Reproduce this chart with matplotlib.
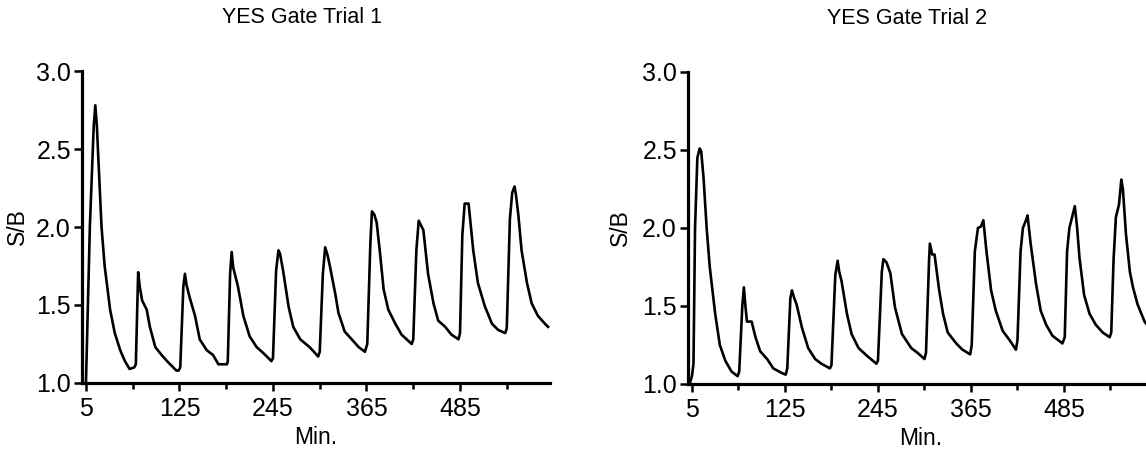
from __future__ import annotations

import matplotlib

matplotlib.use("Agg")
import matplotlib.pyplot as plt
from matplotlib.ticker import FixedLocator

plt.rcParams["font.family"] = ["Liberation Sans", "DejaVu Sans"]

# Values (minutes, signal / background)
trial1_min = [
    5, 10, 15, 17, 19, 21, 25, 29, 36, 42, 49, 55, 61, 67,
    69, 72, 74, 77, 83, 87, 94, 102, 111, 121, 124,
    126, 130, 132, 134, 138, 145, 151, 160, 168, 175, 186,
    187, 190, 192, 194, 200, 207, 215, 224, 233, 243,
    245, 249, 252, 254, 258, 265, 271, 280, 292, 303,
    305, 309, 312, 315, 318, 325, 329, 337, 346, 355, 363,
    366, 370, 372, 375, 378, 382, 387, 393, 402, 410, 423,
    425, 429, 432, 435, 438, 444, 451, 457, 466, 474, 483,
    485, 488, 491, 496, 498, 502, 508, 517, 526, 534, 543,
    545, 549, 552, 555, 557, 560, 564, 571, 577, 585, 594, 598,
]
trial1_sb = [
    1.00, 2.00, 2.65, 2.78, 2.65, 2.43, 2.00, 1.75, 1.47, 1.32, 1.21, 1.14, 1.09, 1.10,
    1.12, 1.71, 1.62, 1.53, 1.47, 1.36, 1.23, 1.18, 1.13, 1.08, 1.08,
    1.10, 1.62, 1.70, 1.63, 1.55, 1.43, 1.28, 1.21, 1.18, 1.12, 1.12,
    1.14, 1.70, 1.84, 1.74, 1.62, 1.43, 1.30, 1.23, 1.19, 1.14,
    1.16, 1.72, 1.85, 1.83, 1.72, 1.49, 1.36, 1.28, 1.23, 1.17,
    1.20, 1.70, 1.87, 1.82, 1.75, 1.57, 1.45, 1.33, 1.28, 1.23, 1.20,
    1.25, 1.90, 2.10, 2.08, 2.03, 1.85, 1.60, 1.47, 1.38, 1.31, 1.25,
    1.28, 1.85, 2.04, 2.01, 1.98, 1.70, 1.51, 1.40, 1.36, 1.31, 1.28,
    1.32, 1.95, 2.15, 2.15, 2.05, 1.85, 1.64, 1.49, 1.38, 1.34, 1.32,
    1.35, 2.05, 2.22, 2.26, 2.20, 2.07, 1.85, 1.64, 1.51, 1.43, 1.38, 1.36,
]

trial2_min = [
    2, 5, 7, 9, 12, 15, 17, 20, 24, 28, 35, 41, 48, 56, 64,
    66, 70, 72, 74, 76, 82, 87, 93, 102, 110, 121, 126,
    128, 132, 134, 137, 140, 147, 155, 164, 172, 183,
    185, 190, 193, 195, 198, 205, 211, 220, 231, 243,
    245, 250, 252, 256, 261, 267, 276, 288, 296, 305,
    307, 311, 312, 315, 318, 324, 329, 335, 346, 354, 364,
    366, 370, 374, 378, 381, 385, 391, 397, 406, 415, 423,
    425, 429, 432, 436, 438, 442, 449, 455, 462, 470, 483,
    486, 489, 492, 496, 499, 502, 505, 511, 518, 526, 535, 544,
    546, 549, 552, 556, 559, 561, 565, 570, 574, 580, 589, 595,
]
trial2_sb = [
    1.00, 1.05, 1.13, 2.00, 2.45, 2.51, 2.49, 2.32, 2.00, 1.75, 1.45, 1.25, 1.15, 1.08, 1.05,
    1.08, 1.50, 1.62, 1.50, 1.40, 1.40, 1.30, 1.21, 1.16, 1.10, 1.07, 1.06,
    1.10, 1.55, 1.60, 1.55, 1.51, 1.36, 1.23, 1.16, 1.13, 1.10,
    1.12, 1.70, 1.79, 1.72, 1.66, 1.45, 1.32, 1.23, 1.18, 1.13,
    1.15, 1.72, 1.80, 1.78, 1.71, 1.49, 1.32, 1.23, 1.20, 1.16,
    1.20, 1.80, 1.90, 1.83, 1.83, 1.60, 1.45, 1.33, 1.26, 1.22, 1.19,
    1.25, 1.85, 2.00, 2.01, 2.05, 1.85, 1.60, 1.47, 1.34, 1.28, 1.22,
    1.28, 1.85, 2.00, 2.05, 2.08, 1.90, 1.64, 1.47, 1.38, 1.31, 1.26,
    1.30, 1.85, 2.00, 2.08, 2.14, 2.00, 1.81, 1.57, 1.45, 1.38, 1.33, 1.30,
    1.33, 1.80, 2.07, 2.15, 2.31, 2.25, 1.96, 1.72, 1.62, 1.51, 1.40, 1.36,
]

titles = ["YES Gate Trial 1", "YES Gate Trial 2"]
major_ticks = [5, 125, 245, 365, 485]
minor_ticks = [65, 185, 305, 425, 545]
y_ticks = [1.0, 1.5, 2.0, 2.5, 3.0]


def style_axis(ax, title: str) -> None:
    """Prism-like axis: only left/bottom spines, outward ticks."""
    for side in ("top", "right"):
        ax.spines[side].set_visible(False)
    for side in ("left", "bottom"):
        ax.spines[side].set_linewidth(2.3)

    ax.set_xlim(0, 600)
    ax.set_ylim(1.0, 3.0)
    ax.xaxis.set_major_locator(FixedLocator(major_ticks))
    ax.xaxis.set_minor_locator(FixedLocator(minor_ticks))
    ax.set_xticklabels([str(t) for t in major_ticks])
    ax.set_yticks(y_ticks)
    ax.set_yticklabels([f"{v:.1f}" for v in y_ticks])

    ax.tick_params(axis="both", which="major", direction="out", length=6, width=1.8,
                   labelsize=18, colors="black")
    ax.tick_params(axis="x", which="major", pad=4)
    ax.tick_params(axis="y", which="major", pad=2)
    ax.tick_params(axis="x", which="minor", direction="out", length=4, width=1.8)

    ax.set_ylabel("S/B", fontsize=16.5)
    ax.yaxis.label.set_va("center")
    ax.set_xlabel("Min.", fontsize=16.5)
    ax.xaxis.set_label_coords(0.5, -0.176)
    ax.xaxis.label.set_va("center")
    ax.text(0.47, 1.17, title, transform=ax.transAxes, ha="center", va="center",
            fontsize=15.5)


fig = plt.figure(figsize=(11.46, 4.5), dpi=100)
ax1 = fig.add_axes([0.0716, 0.1489, 0.408, 0.6933])
ax2 = fig.add_axes([0.6004, 0.1467, 0.4058, 0.6933])

ax1.plot(trial1_min, trial1_sb, color="black", linewidth=1.9, clip_on=False)
ax2.plot(trial2_min, trial2_sb, color="black", linewidth=1.9, clip_on=False)

style_axis(ax1, titles[0])
style_axis(ax2, titles[1])
ax1.yaxis.set_label_coords(-0.139, 0.5)
ax2.yaxis.set_label_coords(-0.146, 0.5)

fig.savefig("out.png", dpi=100)
plt.close(fig)
